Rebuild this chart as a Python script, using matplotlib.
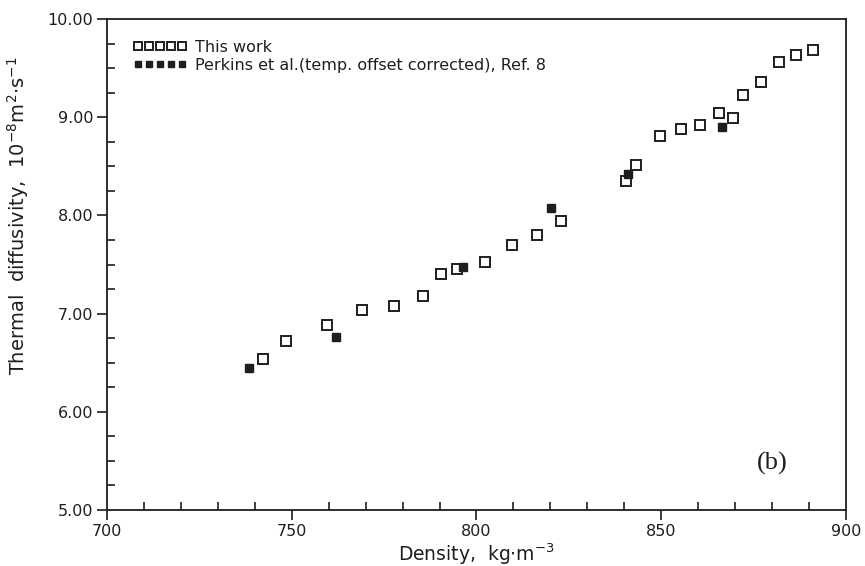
import numpy as np
import matplotlib
matplotlib.use("Agg")
import matplotlib.pyplot as plt
from matplotlib.ticker import MultipleLocator, FormatStrFormatter

# Thermal diffusivity vs density (this work)
work_density = [742.2, 748.4, 759.5, 768.9, 777.7, 785.4, 790.4, 794.8,
                802.3, 809.6, 816.5, 822.9, 840.5, 843.3, 849.8, 855.3,
                860.5, 865.6, 869.5, 872.2, 877.1, 882.0, 886.6, 891.2]
work_diffusivity = [6.54, 6.72, 6.88, 7.04, 7.08, 7.18, 7.40, 7.45,
                    7.53, 7.70, 7.80, 7.94, 8.35, 8.51, 8.81, 8.88,
                    8.92, 9.04, 8.99, 9.23, 9.36, 9.56, 9.63, 9.68]

# Perkins et al., Ref. 8 (temperature offset corrected)
ref_density = [738.5, 762.0, 796.4, 820.3, 841.0, 866.5]
ref_diffusivity = [6.45, 6.76, 7.47, 8.08, 8.42, 8.90]

ink = "#1e1e1e"
plt.rcParams["font.family"] = "DejaVu Sans"
plt.rcParams["mathtext.fontset"] = "dejavusans"

fig = plt.figure(figsize=(8.65, 5.66), dpi=100)
ax = fig.add_axes([0.1237, 0.0989, 0.978 - 0.1237, 0.9664 - 0.0989])

ax.plot(work_density, work_diffusivity, linestyle="none", marker="s",
        markersize=7.5, markerfacecolor="white", markeredgecolor=ink,
        markeredgewidth=1.4, label="This work")
ax.plot(ref_density, ref_diffusivity, linestyle="none", marker="s",
        markersize=5.2, color=ink,
        label="Perkins et al.(temp. offset corrected), Ref. 8")

ax.set_xlim(700, 900)
ax.set_ylim(5, 10)

ax.xaxis.set_major_locator(MultipleLocator(50))
ax.xaxis.set_minor_locator(MultipleLocator(10))
ax.yaxis.set_major_locator(MultipleLocator(1))
ax.yaxis.set_minor_locator(MultipleLocator(0.25))
ax.yaxis.set_major_formatter(FormatStrFormatter("%.2f"))

ax.tick_params(which="major", direction="out", length=7, width=1.2,
               colors=ink, labelsize=11.5, pad=3)
ax.tick_params(which="minor", direction="in", length=6, width=1.2,
               colors=ink)
for side in ax.spines.values():
    side.set_linewidth(1.3)
    side.set_color(ink)

ax.set_xlabel(r"Density,  kg$\cdot$m$^{-3}$", fontsize=13.5, color=ink,
              labelpad=2)
ax.set_ylabel(r"Thermal  diffusivity,  10$^{-8}$m$^{2}$$\cdot$s$^{-1}$",
              fontsize=14, color=ink)
ax.yaxis.set_label_coords(-0.103, 0.6)

leg = ax.legend(loc="upper left", bbox_to_anchor=(0.035, 0.958),
                numpoints=5, frameon=False, fontsize=11.5,
                handlelength=3.4, handletextpad=0.5, labelspacing=0.2,
                borderpad=0, borderaxespad=0)
for txt in leg.get_texts():
    txt.set_color(ink)
for h in leg.legend_handles:
    h.set_markersize(6.3 if h.get_markerfacecolor() == "white" else 5.0)

ax.text(0.90, 0.095, "(b)", transform=ax.transAxes, ha="center",
        va="center", fontsize=19, family="Liberation Serif", color=ink)

fig.savefig("out.png", dpi=100)
